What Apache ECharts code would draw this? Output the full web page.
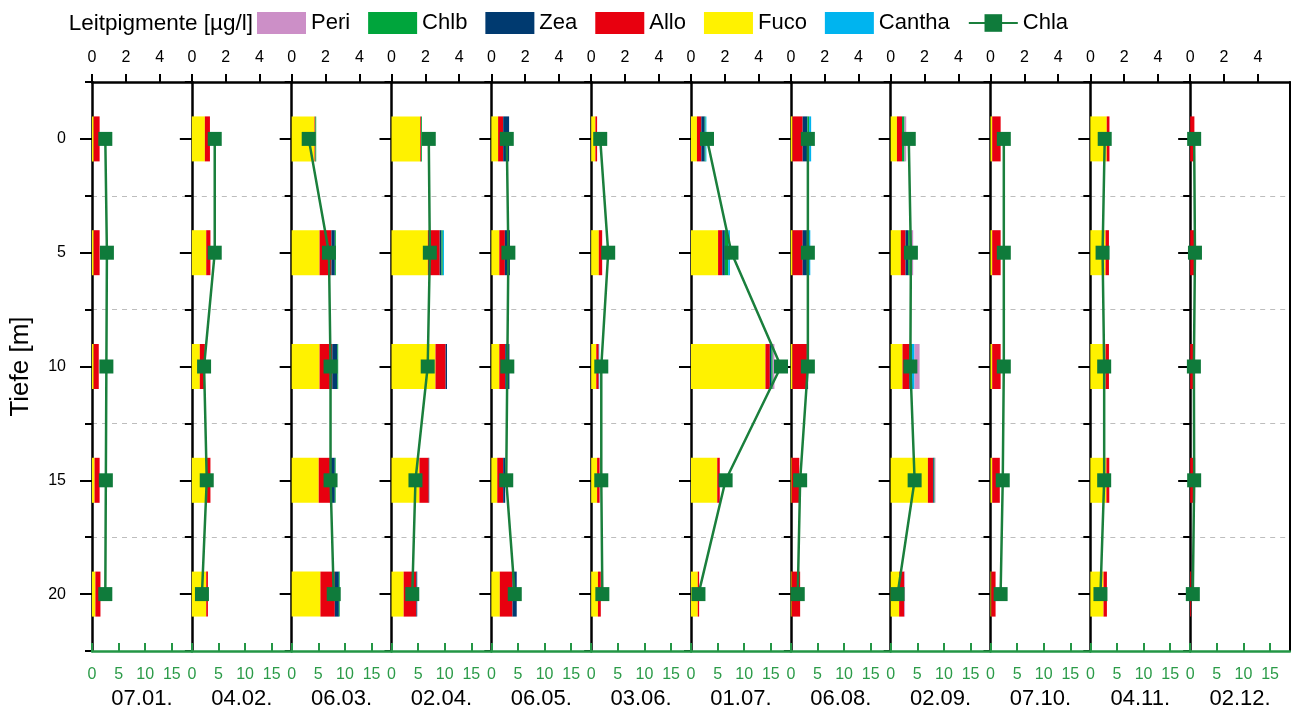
<!DOCTYPE html>
<html>
<head>
<meta charset="utf-8">
<script src="https://cdn.jsdelivr.net/npm/echarts@6/dist/echarts.min.js"></script>
<style>html,body{margin:0;padding:0;background:#fff;}#c{width:1291px;height:715px;}</style>
</head>
<body>
<div id="c"></div>
<script>
// ---- data ----
const dates = ['07.01.','04.02.','06.03.','02.04.','06.05.','03.06.','01.07.','06.08.','02.09.','07.10.','04.11.','02.12.'];
const depths = ['0','5','10','15','20'];
const topTicks = [0, 2, 4];
const bottomTicks = [0, 5, 10, 15];
// pigment values [µg/l], per date, depths 0,5,10,15,20 m
const fuco = [
  [0.1,0.1,0.1,0.15,0.2],[0.77,0.85,0.47,0.9,0.85],[1.35,1.65,1.65,1.6,1.7],[1.7,2.15,2.6,1.65,0.72],
  [0.4,0.47,0.47,0.35,0.5],[0.25,0.45,0.3,0.35,0.4],[0.35,1.6,4.4,1.55,0.4],[0.1,0.1,0.1,0.05,0.05],
  [0.37,0.6,0.7,2.2,0.5],[0.1,0.1,0.1,0.1,0.05],[0.97,0.9,0.9,0.95,0.78],[0,0,0,0,0]];
const allo = [
  [0.35,0.35,0.3,0.3,0.3],[0.3,0.25,0.3,0.2,0.1],[0.05,0.7,0.75,0.7,0.85],[0.05,0.7,0.6,0.55,0.75],
  [0.3,0.33,0.35,0.35,0.75],[0.1,0.2,0.15,0.15,0.17],[0.26,0.25,0.26,0.15,0.08],[0.6,0.6,0.85,0.45,0.5],
  [0.3,0.28,0.4,0.3,0.3],[0.5,0.5,0.5,0.45,0.25],[0.16,0.2,0.2,0.17,0.2],[0.25,0.28,0.22,0.25,0.05]];
const zea = [
  [0,0,0,0,0],[0,0,0,0,0],[0,0.2,0.3,0.25,0.24],[0,0.1,0.08,0.03,0.05],
  [0.35,0.3,0.25,0.12,0.25],[0,0,0,0,0],[0.2,0.15,0.08,0,0],[0.28,0.25,0.07,0,0],
  [0,0.15,0.06,0.05,0],[0,0,0,0,0],[0,0,0,0,0],[0,0,0,0,0]];
const chlb = [
  [0,0,0,0,0],[0,0,0,0,0],[0.05,0.06,0.05,0.05,0.05],[0.05,0.08,0,0,0],
  [0,0,0,0,0],[0,0,0,0,0],[0.05,0.2,0.09,0,0],[0.1,0.1,0,0,0],
  [0.15,0.1,0.1,0.05,0],[0,0,0,0,0],[0,0,0,0,0],[0,0,0,0,0]];
const cantha = [
  [0,0,0,0,0],[0,0,0,0,0],[0,0,0,0,0],[0,0.07,0,0,0],
  [0,0,0,0,0],[0,0,0.03,0,0],[0.05,0.1,0,0,0],[0.12,0.1,0,0,0],
  [0,0,0.15,0,0],[0,0,0,0,0],[0,0,0,0,0],[0,0,0,0,0]];
const peri = [
  [0,0,0,0,0],[0,0,0,0,0],[0,0,0,0,0],[0,0,0,0,0],
  [0,0,0,0,0],[0,0,0,0,0],[0,0,0.1,0,0],[0,0,0,0,0],
  [0.1,0.2,0.3,0.05,0.05],[0,0,0,0,0],[0,0,0,0,0],[0,0,0,0.05,0]];
const chla = [
  [2.5,2.8,2.7,2.6,2.5],[4.3,4.3,2.3,2.8,1.9],[3.2,7.0,7.3,7.3,7.9],[7.0,7.2,6.8,4.5,3.9],
  [2.9,3.2,3.0,2.8,4.4],[1.7,3.2,1.9,1.9,2.1],[3.0,7.6,16.9,6.5,1.4],[3.2,3.2,3.2,1.75,1.3],
  [3.4,3.8,3.7,4.5,1.3],[2.5,2.5,2.5,2.3,1.9],[2.7,2.3,2.6,2.6,1.9],[0.75,0.9,0.7,0.75,0.5]];

// ---- styling ----
const FONT = 'Liberation Sans, Arial, sans-serif';
const pigments = [
  {name:'Fuco', data:fuco, color:'#fff200'},
  {name:'Allo', data:allo, color:'#e8000f'},
  {name:'Zea', data:zea, color:'#003a70'},
  {name:'Chlb', data:chlb, color:'#00a53c'},
  {name:'Cantha', data:cantha, color:'#00b4ef'},
  {name:'Peri', data:peri, color:'#cc8fc7'}
];
const GREEN_AXIS = '#239645';
const GREEN_LINE = '#1a7f3c';
const N = dates.length;
const X0 = 92, W = (1290 - 92) / N, TOP = 82, BOTTOM = 715 - 657;

const grid = [], xAxis = [], yAxis = [], series = [];
for (let i = 0; i < N; i++) {
  grid.push({left: X0 + i * W, top: TOP, width: W, bottom: BOTTOM, containLabel: false});
  // top pigment axis
  xAxis.push({
    type:'value', gridIndex:i, position:'top', min:0, max:5.9,
    axisLine:{show:true, onZero:false, lineStyle:{color:'#000', width:2.5}},
    axisTick:{show:true, length:8, lineStyle:{color:'#000', width:2}, customValues: topTicks},
    axisLabel:{show:true, margin:16, fontSize:16, color:'#000', fontFamily:FONT, customValues: topTicks},
    splitLine:{show:false}
  });
  // bottom chla axis
  xAxis.push({
    type:'value', gridIndex:i, position:'bottom', min:0, max:18.75, z:5,
    name: dates[i], nameLocation:'middle', nameGap:37,
    nameTextStyle:{fontSize:22, color:'#000', fontFamily:FONT},
    axisLine:{show:true, onZero:false, lineStyle:{color:GREEN_AXIS, width:2.5}},
    axisTick:{show:true, inside:true, length:8, lineStyle:{color:GREEN_AXIS, width:2}, customValues: bottomTicks},
    axisLabel:{show:true, margin:16, fontSize:16, color:'#2b9b48', fontFamily:FONT, customValues: bottomTicks},
    splitLine:{show:false}
  });
  const mainY = yAxis.length;
  yAxis.push({
    type:'category', gridIndex:i, data:depths, inverse:true, position:'left',
    axisLine:{show:true, onZero:false, lineStyle:{color:'#000', width:2.5}},
    axisTick:{show:true, length:7, lineStyle:{color:'#000', width:2}},
    axisLabel:{show:i === 0, margin:26, fontSize:16, color:'#000', fontFamily:FONT},
    splitLine:{show:true, lineStyle:{color:'#bdbdbd', width:1, type:[5,5]}},
    name: i === 0 ? 'Tiefe [m]' : '', nameLocation:'middle', nameGap:58, nameRotate:90,
    nameTextStyle:{fontSize:26, color:'#000', fontFamily:FONT}
  });
  yAxis.push({
    type:'category', gridIndex:i, data:depths, inverse:true, position:'left',
    axisLine:{show:false, onZero:false},
    axisTick:{show:true, alignWithLabel:true, length:12, lineStyle:{color:'#000', width:2}},
    axisLabel:{show:false}, splitLine:{show:false}
  });
  if (i === N - 1) {
    yAxis.push({
      type:'category', gridIndex:i, data:depths, inverse:true, position:'right',
      axisLine:{show:true, onZero:false, lineStyle:{color:'#000', width:2}},
      axisTick:{show:false}, axisLabel:{show:false}, splitLine:{show:false}
    });
  }
  pigments.forEach(p => {
    series.push({
      type:'bar', name:p.name, xAxisIndex:2*i, yAxisIndex:mainY, stack:'s'+i,
      barWidth:45, data:p.data[i], itemStyle:{color:p.color}, silent:true, z:2
    });
  });
  series.push({
    type:'line', name:'Chla', xAxisIndex:2*i+1, yAxisIndex:mainY,
    data:chla[i], symbol:'rect', symbolSize:[14,14], showAllSymbol:true,
    lineStyle:{color:GREEN_LINE, width:2.5}, itemStyle:{color:'#0f7b3b'}, z:4, silent:true
  });
}

const chart = echarts.init(document.getElementById('c'), null, {renderer:'canvas'});
chart.setOption({
  backgroundColor:'#fff',
  animation:false,
  textStyle:{fontFamily:FONT},
  graphic:[{
    type:'text', x:253, y:24,
    style:{text:'Leitpigmente [µg/l]', fontSize:22.5, fill:'#000', fontFamily:FONT,
           align:'right', verticalAlign:'middle'}
  }],
  legend:{
    left:257, top:12, padding:0, itemWidth:49, itemHeight:22, itemGap:18, selectedMode:false,
    textStyle:{fontSize:22, color:'#000', fontFamily:FONT},
    data:[
      {name:'Peri', icon:'rect'},{name:'Chlb', icon:'rect'},{name:'Zea', icon:'rect'},
      {name:'Allo', icon:'rect'},{name:'Fuco', icon:'rect'},{name:'Cantha', icon:'rect'},
      {name:'Chla'}
    ]
  },
  grid, xAxis, yAxis, series
});
</script>
</body>
</html>
